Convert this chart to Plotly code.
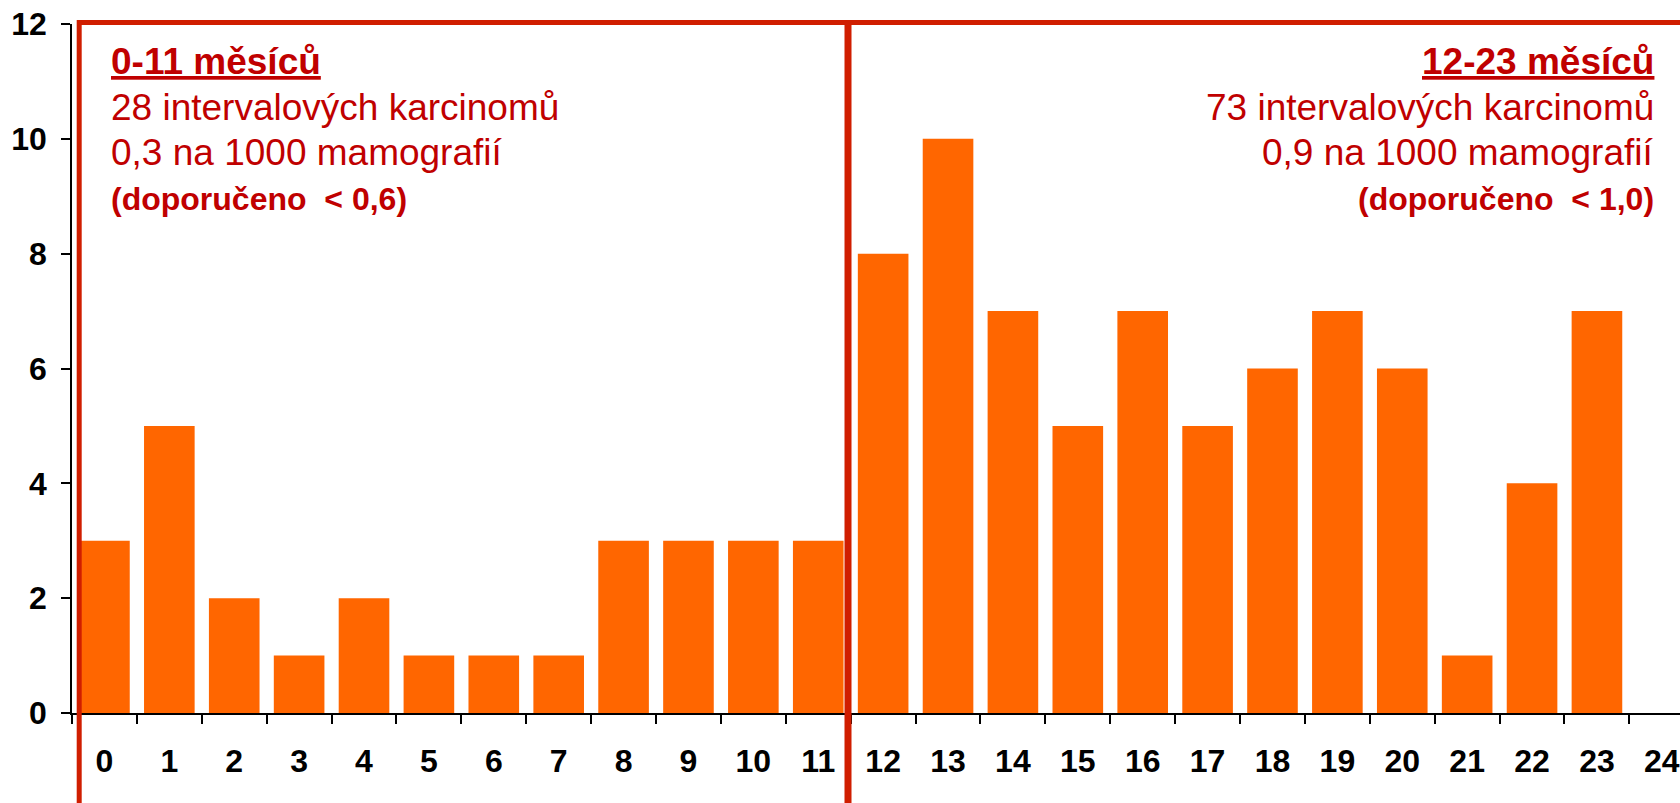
import plotly.graph_objects as go

# ---- data ----
months = [str(i) for i in range(25)]
counts = [3, 5, 2, 1, 2, 1, 1, 1, 3, 3, 3, 3,
          8, 10, 7, 5, 7, 5, 6, 7, 6, 1, 4, 7, None]
y_ticks = [0, 2, 4, 6, 8, 10, 12]

left_lines = ["<u><b>0-11 měsíců</b></u>",
              "28 intervalových karcinomů",
              "0,3 na 1000 mamografií",
              "<b>(doporučeno\u00a0 < 0,6)</b>"]
right_lines = ["<u><b>12-23 měsíců</b></u>",
               "73 intervalových karcinomů",
               "0,9 na 1000 mamografií",
               "<b>(doporučeno\u00a0 < 1,0)</b>"]

W, H = 1680, 803
L, R, T, B = 72, 0, 24, 90
PW, PH = W - L - R, H - T - B

def px(x):
    return (x - L) / PW

def py(y):
    return (H - B - y) / PH

FONT = "Liberation Sans, Arial, sans-serif"
TXT = "#C00000"
BOX = "#D01E00"

fig = go.Figure()
fig.add_trace(go.Bar(x=months, y=counts, marker_color="#FF6600",
                     marker_line_width=0, width=0.78))

fig.update_layout(
    width=W, height=H,
    margin=dict(l=L, r=R, t=T, b=B, pad=0),
    plot_bgcolor="white", paper_bgcolor="white",
    showlegend=False,
    font=dict(family=FONT, color="black"),
)
fig.update_xaxes(
    type="category", range=[-0.5, 24.28],
    showline=True, linecolor="black", linewidth=2,
    ticks="outside", ticklen=9, tickwidth=1.5, tickcolor="black",
    tickson="boundaries", showgrid=False, zeroline=False,
    tickfont=dict(family=FONT, size=32, color="black", weight="bold"),
    ticklabelstandoff=19,
)
fig.update_yaxes(
    range=[0, 12], tickvals=y_ticks,
    showline=True, linecolor="black", linewidth=1.5,
    ticks="outside", ticklen=9, tickwidth=1.5, tickcolor="black",
    showgrid=False, zeroline=False,
    tickfont=dict(family=FONT, size=32, color="black", weight="bold"),
    ticklabelstandoff=8,
)

# red frame
shapes = [
    dict(type="line", xref="paper", yref="paper", x0=px(77), x1=px(W + 10),
         y0=py(22.5), y1=py(22.5), line=dict(color=BOX, width=5)),
    dict(type="line", xref="paper", yref="paper", x0=px(79.2), x1=px(79.2),
         y0=py(20), y1=py(H + 20), line=dict(color=BOX, width=5)),
    dict(type="line", xref="paper", yref="paper", x0=px(848), x1=px(848),
         y0=py(20), y1=py(H + 20), line=dict(color=BOX, width=7)),
]
fig.update_layout(shapes=shapes)

centers = [61.2, 107.0, 152.5, 199.0]
sizes = [37, 37, 37, 32]
for txt, c, s in zip(left_lines, centers, sizes):
    fig.add_annotation(text=txt, xref="paper", yref="paper", x=px(109), y=py(c),
                       xanchor="left", yanchor="middle", showarrow=False,
                       font=dict(family=FONT, size=s, color=TXT))
for txt, c, s in zip(right_lines, centers, sizes):
    fig.add_annotation(text=txt, xref="paper", yref="paper", x=px(1656), y=py(c),
                       xanchor="right", yanchor="middle", showarrow=False,
                       font=dict(family=FONT, size=s, color=TXT))

fig.write_html("out.html")
